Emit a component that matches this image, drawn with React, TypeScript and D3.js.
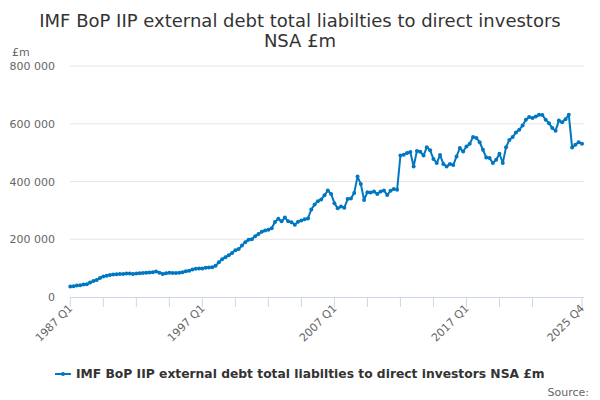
import React from 'react';
import * as d3 from 'd3';

// quarterly series, £ thousand million (×1000 = £m), 1987 Q1 .. 2025 Q4
const firstYear = 1987;
const lastYear = 2025;

const values: number[] = [
  36, 37, 40, 41, 43, 44, 50, 55, 59, 66,
  71, 74, 76, 78, 79, 80, 80, 81, 81, 80,
  81, 82, 83, 84, 85, 86, 88, 84, 80, 82,
  84, 83, 83, 84, 86, 89, 91, 95, 98, 99,
  99, 101, 102, 103, 108, 120, 131, 138, 145, 152,
  162, 166, 178, 190, 198, 200, 210, 218, 226, 230,
  233, 238, 260, 271, 262, 275, 262, 259, 250, 261,
  265, 269, 272, 303, 320, 332, 338, 352, 369, 357,
  325, 307, 313, 309, 339, 341, 360, 417, 391, 336,
  363, 362, 365, 357, 365, 369, 353, 368, 374, 371,
  490, 493, 499, 502, 452, 506, 503, 490, 519, 508,
  478, 464, 492, 461, 452, 461, 457, 487, 516, 504,
  521, 531, 554, 551, 536, 510, 483, 481, 464, 475,
  496, 464, 519, 544, 554, 570, 579, 594, 614, 623,
  620, 625, 631, 630, 614, 602, 585, 576, 611, 605,
  616, 631, 518, 527, 536, 531,
];

const categories: string[] = d3
  .range(firstYear, lastYear + 1)
  .flatMap(y => [1, 2, 3, 4].map(q => `${y} Q${q}`));

const yTicks = [0, 200000, 400000, 600000, 800000];
const tickIndexes = [0, 10, 20, 30, 40, 50, 60, 70, 80, 90, 100, 110, 120, 130, 140, 155];
const labelIndexes = [0, 40, 80, 120, 155];

const seriesName = 'IMF BoP IIP external debt total liabilties to direct investors NSA £m';
const titleLines = ['IMF BoP IIP external debt total liabilties to direct investors', 'NSA £m'];

const width = 600;
const height = 400;
const margin = { left: 70, right: 18, top: 66, bottom: 103 };
const color = '#0077c0';
const font = '"DejaVu Sans", sans-serif';

const fmt = (v: number) => d3.format(',')(v).replace(/,/g, ' ');

const App: React.FC = () => {
  const x = d3
    .scaleLinear()
    .domain([0, categories.length - 1])
    .range([margin.left + 0.3, width - margin.right]);

  const y = d3
    .scaleLinear()
    .domain([0, 800000])
    .range([height - margin.bottom, margin.top]);

  const line = d3
    .line<number>()
    .x((_, i) => x(i))
    .y(d => y(d * 1000));

  const axisY = height - margin.bottom;

  return (
    <svg
      width={width}
      height={height}
      style={{ position: 'absolute', left: 0, top: 0, fontFamily: font }}
    >
      <rect width={width} height={height} fill="#fff" />

      {titleLines.map((t, i) => (
        <text key={i} x={width / 2} y={27 + i * 20} textAnchor="middle" fontSize={18} fill="#333">
          {t}
        </text>
      ))}

      <text x={12} y={56} fontSize={11} fill="#666">£m</text>

      {yTicks.map(t => (
        <g key={t}>
          {t > 0 && (
            <line x1={margin.left} x2={width - margin.right + 2} y1={y(t)} y2={y(t)} stroke="#e6e6e6" />
          )}
          <text x={55} y={y(t) + 4} textAnchor="end" fontSize={11} fill="#666">
            {fmt(t)}
          </text>
        </g>
      ))}

      <line x1={margin.left} x2={width - margin.right + 2} y1={axisY + 0.5} y2={axisY + 0.5} stroke="#ccd6eb" />
      {tickIndexes.map(i => (
        <line key={i} x1={x(i)} x2={x(i)} y1={axisY} y2={axisY + 10} stroke="#ccd6eb" />
      ))}
      {labelIndexes.map(i => (
        <text
          key={i}
          transform={`translate(${x(i) + 3},${axisY + 12}) rotate(-45)`}
          textAnchor="end"
          fontSize={11}
          fill="#666"
        >
          {categories[i]}
        </text>
      ))}

      <path d={line(values) || ''} fill="none" stroke={color} strokeWidth={2} strokeLinejoin="round" />
      {values.map((v, i) => (
        <circle key={i} cx={x(i)} cy={y(v * 1000)} r={2} fill={color} />
      ))}

      <g transform="translate(0,374)">
        <line x1={55} x2={71} y1={0} y2={0} stroke={color} strokeWidth={2} />
        <circle cx={63} cy={0} r={2} fill={color} />
        <text x={76} y={4} fontSize={12.3} fontWeight="bold" fill="#333">
          {seriesName}
        </text>
      </g>

      <text x={589} y={396} textAnchor="end" fontSize={11} fill="#666">Source:</text>
    </svg>
  );
};

export default App;
